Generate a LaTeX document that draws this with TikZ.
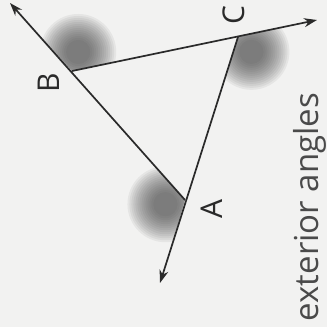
\documentclass[tikz,border=0pt]{standalone}
\usepackage{fontspec}
\setmainfont{Open Sans}
\usetikzlibrary{arrows.meta,calc}
\definecolor{extInk}{HTML}{2A2A2A}
\definecolor{extPaper}{HTML}{F2F2F1}
\definecolor{extShade}{HTML}{404040}
\tikzset{
  ext ray/.style={draw=extInk,line width=1.7pt,-{Stealth[length=13pt,width=9pt]}},
  ext blob/.style={fill=extShade,opacity=0.07},
  ext vertex/.style={font=\fontsize{30}{30}\selectfont,text=extInk,rotate=90,inner sep=0pt},
  ext caption/.style={font=\fontsize{33}{33}\selectfont,text=extInk!85,rotate=90,anchor=base,inner sep=0pt},
}

\begin{document}
\begin{tikzpicture}[x=1pt,y=1pt]
\fill[extPaper](0,0)rectangle(327,327);
\useasboundingbox(0,0)rectangle(327,327);
\coordinate(A)at(185,127);
\coordinate(B)at(72,256);
\coordinate(C)at(238,290);
\coordinate(tA)at(160,44);
\coordinate(tB)at(10,324);
\coordinate(tC)at(317,307);
% exterior angle blobs
\foreach \v/\p/\q in {B/tB/C,C/tC/A,A/tA/B}{
  \begin{scope}
    \coordinate(w1)at($(\v)!150pt!(\p)$);
    \coordinate(w2)at($(\v)!150pt!(\q)$);
    \coordinate(wc)at($(\v)!20pt!($(w1)!.5!(w2)$)$);
    \clip(\v)--(w1)--($(w1)+(w2)-(\v)$)--(w2)--cycle;
    \foreach \r in {12,14,...,38}{\fill[ext blob](wc)circle(\r);}
  \end{scope}}
\draw[ext ray](A)--(tB);
\draw[ext ray](B)--(tC);
\draw[ext ray](C)--(tA);
\node[ext vertex](labA)at(212,118){A};
\node[ext vertex](labB)at(49,244){B};
\node[ext vertex](labC)at(234,312){C};
\node[ext caption](cap)at(318,120){exterior angles};
\end{tikzpicture}
\end{document}
